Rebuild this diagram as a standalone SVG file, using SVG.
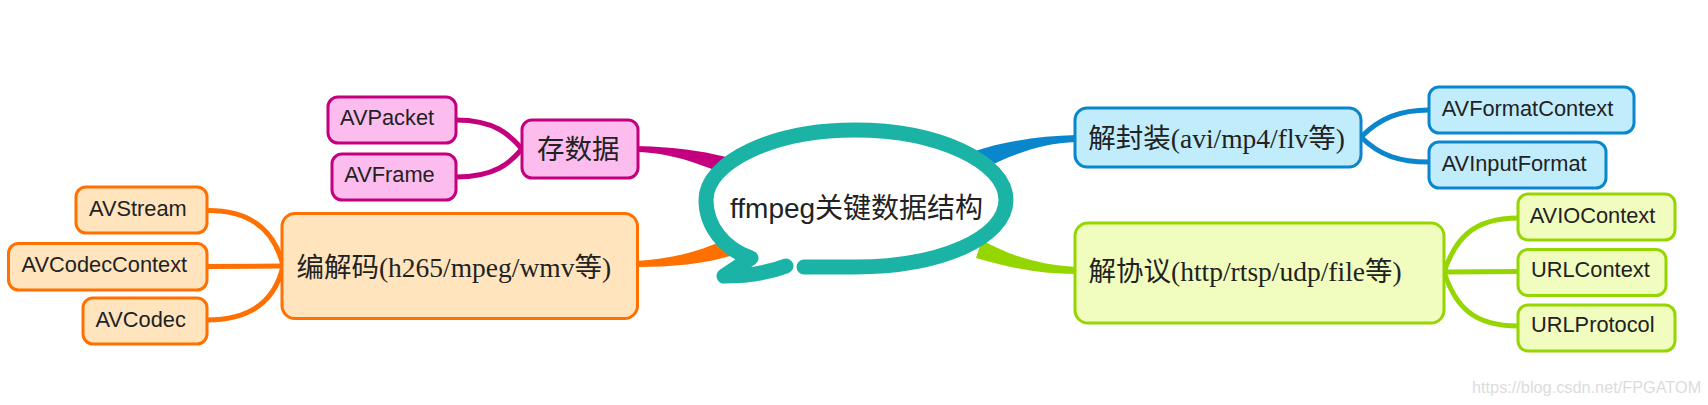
<svg xmlns="http://www.w3.org/2000/svg" width="1708" height="405" viewBox="0 0 1708 405">
<style>
.ts{font-family:"Liberation Sans","Noto Sans CJK SC",sans-serif;font-size:21.8px;fill:#222}
.tl{font-family:"Liberation Serif","Noto Sans CJK SC",serif;font-size:27.5px;fill:#222}
.tc{font-family:"Liberation Sans","Noto Sans CJK SC",sans-serif;font-size:28px;fill:#222}
.box{stroke-width:3}
.mag .box{fill:#fcbdee;stroke:#c4007f}
.org .box{fill:#ffe4be;stroke:#ff7000}
.blu .box{fill:#c0ecfc;stroke:#0a86cc}
.grn .box{fill:#f1fcbf;stroke:#95d600}
.lk{fill:none;stroke-width:5;stroke-linecap:round}
</style>
<rect width="1708" height="405" fill="#fff"/>
<g id="connectors">
  <path d="M636 146 C678 147,708 151,748 163 L744 182 C706 167,678 153,636 152 Z" fill="#c4007f"/>
  <path d="M636 261 C670 259,700 252,728 238 L734 255 C704 264,672 267,636 267 Z" fill="#ff7000"/>
  <path d="M1076 135 C1040 136,1005 141,972 152 L982 170 C1010 155,1042 143,1076 142 Z" fill="#0a86cc"/>
  <path d="M1076 267 C1040 265,1010 256,982 240 L976 258 C1010 268,1040 274,1076 274 Z" fill="#95d600"/>
  <path class="lk" stroke="#c4007f" d="M456 120 C495 120,510 135,522 149"/>
  <path class="lk" stroke="#c4007f" d="M456 177 C495 177,510 163,522 149"/>
  <path class="lk" stroke="#ff7000" d="M207 210.5 C255 210,276 235,283 266"/>
  <path class="lk" stroke="#ff7000" d="M207 266.5 L283 266"/>
  <path class="lk" stroke="#ff7000" d="M207 320 C255 320,276 297,283 266"/>
  <path class="lk" stroke="#0a86cc" d="M1361 137 C1380 118,1400 110,1429 110"/>
  <path class="lk" stroke="#0a86cc" d="M1361 137 C1380 156,1400 162,1429 162"/>
  <path class="lk" stroke="#95d600" d="M1444 272 C1455 240,1472 218,1518 218"/>
  <path class="lk" stroke="#95d600" d="M1444 272 L1518 271.5"/>
  <path class="lk" stroke="#95d600" d="M1444 272 C1455 305,1472 326,1518 326"/>
</g>
<g id="center">
  <path d="M804 267 L855 267 C940 267,1006 238,1006 200 C1006 162,938 130,855 130 C773 130,706 162,706 200 C706 226,724 249,751 258 L724 276 Q760 276,786 266" fill="#fff" stroke="#1ab3a6" stroke-width="15" stroke-linecap="round" stroke-linejoin="round"/>
  <text class="tc" x="730" y="218.3">ffmpeg关键数据结构</text>
</g>
<g id="n-cunshuju" class="mag">
  <rect class="box" x="522" y="120" width="116" height="58" rx="10"/>
  <text class="tl" x="537" y="159">存数据</text>
</g>
<g id="n-avpacket" class="mag">
  <rect class="box" x="328" y="97" width="128" height="46" rx="10"/>
  <text class="ts" x="340" y="125">AVPacket</text>
</g>
<g id="n-avframe" class="mag">
  <rect class="box" x="332" y="154" width="124" height="46" rx="10"/>
  <text class="ts" x="344.3" y="181.7">AVFrame</text>
</g>
<g id="n-bianjiema" class="org">
  <rect class="box" x="282" y="213.5" width="355.5" height="105" rx="13"/>
  <text class="tl" x="296.4" y="276.5">编解码(h265/mpeg/wmv等)</text>
</g>
<g id="n-avstream" class="org">
  <rect class="box" x="76" y="187" width="131" height="46" rx="10"/>
  <text class="ts" x="89" y="215.7">AVStream</text>
</g>
<g id="n-avcodeccontext" class="org">
  <rect class="box" x="8.5" y="243.5" width="198.5" height="46.5" rx="10"/>
  <text class="ts" x="21.6" y="272.3">AVCodecContext</text>
</g>
<g id="n-avcodec" class="org">
  <rect class="box" x="83" y="298" width="124" height="46" rx="10"/>
  <text class="ts" x="95.4" y="327">AVCodec</text>
</g>
<g id="n-jiefengzhuang" class="blu">
  <rect class="box" x="1075" y="108" width="286" height="59" rx="12"/>
  <text class="tl" x="1088.3" y="148.3">解封装(avi/mp4/flv等)</text>
</g>
<g id="n-avformatcontext" class="blu">
  <rect class="box" x="1429" y="87" width="205" height="46" rx="10"/>
  <text class="ts" x="1441.7" y="115.7">AVFormatContext</text>
</g>
<g id="n-avinputformat" class="blu">
  <rect class="box" x="1429" y="142" width="177" height="46" rx="10"/>
  <text class="ts" x="1441.7" y="170.7">AVInputFormat</text>
</g>
<g id="n-jiexieyi" class="grn">
  <rect class="box" x="1075" y="223" width="369" height="100" rx="13"/>
  <text class="tl" x="1088.5" y="281">解协议(http/rtsp/udp/file等)</text>
</g>
<g id="n-aviocontext" class="grn">
  <rect class="box" x="1518" y="194" width="157" height="46" rx="10"/>
  <text class="ts" x="1529.7" y="223.3">AVIOContext</text>
</g>
<g id="n-urlcontext" class="grn">
  <rect class="box" x="1518" y="249.5" width="148" height="46" rx="10"/>
  <text class="ts" x="1531" y="277">URLContext</text>
</g>
<g id="n-urlprotocol" class="grn">
  <rect class="box" x="1518" y="305" width="157" height="46" rx="10"/>
  <text class="ts" x="1531" y="332">URLProtocol</text>
</g>
<text x="1472" y="392.7" font-family="Liberation Sans, sans-serif" font-size="16.3" fill="#dcdcdc">https://blog.csdn.net/FPGATOM</text>
</svg>
